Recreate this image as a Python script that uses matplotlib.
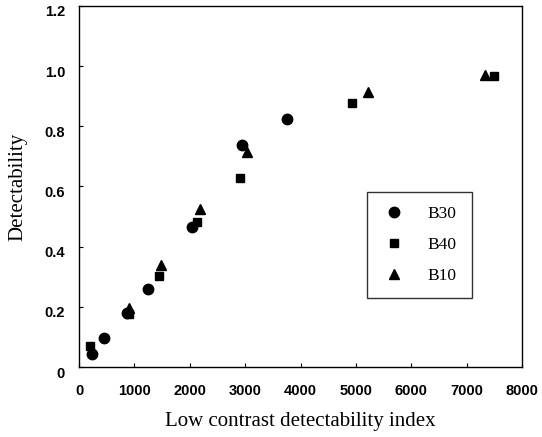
import matplotlib
matplotlib.use("Agg")
import matplotlib.pyplot as plt
import matplotlib.transforms as mtransforms

# Data
b30_x = [229, 457, 861, 1240, 2034, 2937, 3755]
b30_y = [0.042, 0.095, 0.178, 0.258, 0.464, 0.737, 0.824]
b40_x = [199, 908, 1450, 2124, 2906, 4928, 7491]
b40_y = [0.070, 0.176, 0.302, 0.483, 0.628, 0.879, 0.967]
b10_x = [908, 1474, 2184, 3032, 5211, 7329]
b10_y = [0.195, 0.339, 0.525, 0.715, 0.914, 0.969]

x_ticks = [0, 1000, 2000, 3000, 4000, 5000, 6000, 7000, 8000]
y_ticks = [0, 0.2, 0.4, 0.6, 0.8, 1.0, 1.2]
y_tick_labels = ["0", "0.2", "0.4", "0.6", "0.8", "1.0", "1.2"]

fig = plt.figure(figsize=(5.42, 4.37), dpi=100)
ax = fig.add_axes([79/542, 1 - 367/437, (522-79)/542, (367-6)/437])

ax.plot(b30_x, b30_y, linestyle="none", marker="o", color="black", markersize=7.5, label="B30")
ax.plot(b40_x, b40_y, linestyle="none", marker="s", color="black", markersize=6, label="B40")
ax.plot(b10_x, b10_y, linestyle="none", marker="^", color="black", markersize=7, label="B10")

ax.set_xlim(0, 8000)
ax.set_ylim(0, 1.2)
ax.set_xticks(x_ticks)
ax.set_yticks(y_ticks)
ax.set_yticklabels(y_tick_labels)
ax.tick_params(direction="in", length=3, width=0.8, labelsize=10.5)
ax.tick_params(axis="x", pad=12)
ax.tick_params(axis="y", pad=10)
for lab in ax.get_xticklabels() + ax.get_yticklabels():
    lab.set_fontfamily("Liberation Sans")
    lab.set_fontweight("bold")
offset = mtransforms.ScaledTranslation(0, -5/100, fig.dpi_scale_trans)
for lab in ax.get_yticklabels():
    lab.set_transform(lab.get_transform() + offset)
for s in ax.spines.values():
    s.set_linewidth(1.0)
    s.set_color("black")

ax.set_xlabel("Low contrast detectability index", fontfamily="Liberation Serif", fontsize=15, labelpad=10)
ax.set_ylabel("Detectability", fontfamily="Liberation Serif", fontsize=15, labelpad=12)

leg = ax.legend(loc="lower left",
                bbox_to_anchor=((367-79)/443, 1 - (298-6)/361, (472-367)/443, (298-195)/361),
                mode="expand", frameon=True, fancybox=False, edgecolor="black",
                prop={"family": "Liberation Serif", "size": 12.5}, labelspacing=0.85,
                handletextpad=1.2, borderpad=0.8, handlelength=1.5, borderaxespad=0)
leg.get_frame().set_linewidth(1.0)

fig.savefig("out.png", dpi=100)
